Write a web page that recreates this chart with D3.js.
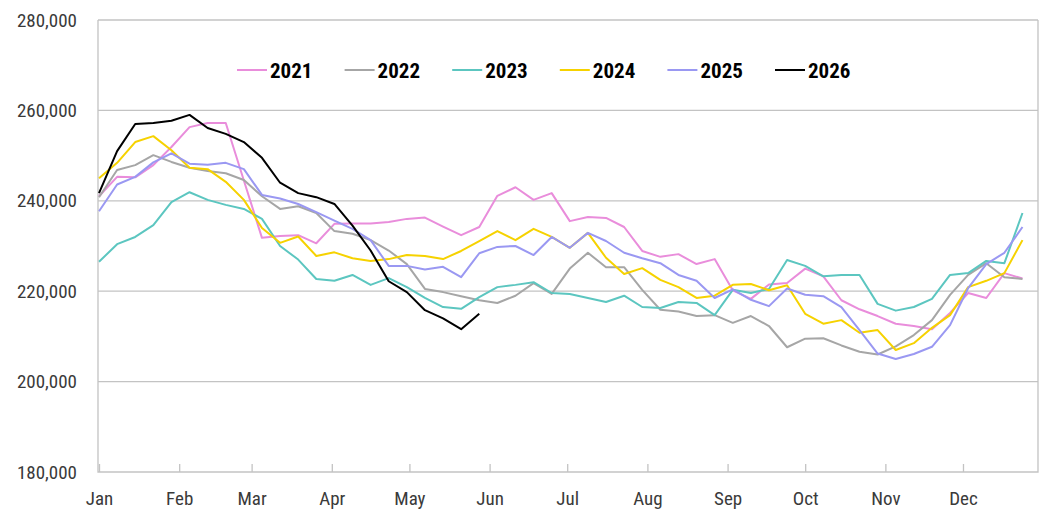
<!DOCTYPE html>
<html>
<head>
<meta charset="utf-8">
<script src="https://cdn.jsdelivr.net/npm/d3@7"></script>
<style>
  body { margin: 0; background: #fff; }
  svg { display: block; }
  .narrow { font-family: "Liberation Sans Narrow", "Arial Narrow", "Roboto Condensed", sans-serif; }
</style>
</head>
<body>
<svg id="chart" width="1040" height="510"></svg>
<script>
// weekly values, one point per week starting Jan 1
var years = ["2021", "2022", "2023", "2024", "2025", "2026"];
var colors = ["#e98ddb", "#a6a6a6", "#5cc6c0", "#f6d200", "#9a98f2", "#000000"];

var v2021 = [241000, 245300, 245200, 247900, 251900, 256300, 257200, 257200, 244500, 231800,
  232200, 232400, 230600, 234900, 235000, 235000, 235300, 236000, 236300, 234300,
  232400, 234200, 241100, 243000, 240200, 241700, 235500, 236400, 236200, 234200,
  228900, 227600, 228200, 226000, 227100, 220200, 218300, 221500, 221800, 225000,
  223300, 218000, 216000, 214500, 212800, 212300, 211600, 215200, 219600, 218500,
  224000, 222800];
var v2022 = [240800, 246800, 247900, 250100, 248600, 247300, 246600, 246100, 244600, 241000,
  238200, 238800, 237300, 233300, 232700, 231300, 229000, 226000, 220500, 219800,
  218900, 218000, 217400, 219000, 221800, 219400, 225000, 228500, 225300, 225300,
  220300, 215900, 215500, 214500, 214700, 213000, 214500, 212300, 207600, 209500,
  209600, 208000, 206600, 206000, 207800, 210300, 213600, 219200, 223600, 226200,
  223100, 222700];
var v2023 = [226500, 230400, 232000, 234600, 239700, 241900, 240200, 239100, 238200, 236000,
  230000, 227000, 222700, 222300, 223600, 221400, 222900, 220900, 218500, 216500,
  216100, 218700, 220900, 221400, 222000, 219600, 219400, 218500, 217600, 219000,
  216500, 216300, 217600, 217400, 214700, 220300, 219600, 220500, 226900, 225600,
  223300, 223600, 223600, 217200, 215700, 216500, 218300, 223600, 224000, 226700,
  226200, 237300];
var v2024 = [245000, 248400, 253000, 254300, 251200, 247300, 247000, 244200, 240200, 234000,
  230700, 232100, 227800, 228600, 227300, 226700, 227100, 228000, 227800, 227100,
  228900, 231100, 233300, 231300, 233800, 232000, 229600, 232900, 227400, 223800,
  225100, 222500, 220900, 218500, 219000, 221400, 221600, 220200, 221300, 215000,
  212800, 213600, 210800, 211400, 207000, 208500, 211900, 214700, 220900, 222300,
  224000, 231300];
var v2025 = [237700, 243600, 245300, 248500, 250500, 248200, 248000, 248400, 247000, 241300,
  240500, 239300, 237500, 235600, 233800, 231300, 225600, 225600, 224800, 225400,
  223100, 228400, 229800, 230000, 228000, 232000, 229600, 232900, 231100, 228500,
  227300, 226200, 223600, 222300, 218500, 220400, 218100, 216700, 220600, 219200,
  218900, 216500, 211400, 206200, 205000, 206100, 207700, 212500, 220700, 226000,
  228500, 234200];
var v2026 = [241700, 251000, 257000, 257200, 257700, 259000, 256100, 254800, 253000, 249500,
  244000, 241700, 240800, 239300, 234500, 229000, 222200, 219800, 215800, 214000,
  211600, 215000];

var series = [v2021, v2022, v2023, v2024, v2025, v2026];
var yTicks = [180000, 200000, 220000, 240000, 260000, 280000];

var svg = d3.select("#chart");
var plotLeft = 98, plotRight = 1038, plotTop = 20, plotBottom = 472;

var start = new Date(2021, 0, 1);
var x = d3.scaleTime()
    .domain([start, new Date(2021, 11, 30)])
    .range([plotLeft + 1, plotRight]);
var y = d3.scaleLinear()
    .domain([180000, 280000])
    .range([plotBottom, plotTop]);

// gridlines
svg.append("g").selectAll("line")
    .data(yTicks.slice(1))
    .enter().append("line")
      .attr("x1", plotLeft).attr("x2", plotRight)
      .attr("y1", function (d) { return y(d); })
      .attr("y2", function (d) { return y(d); })
      .attr("stroke", "#c3c3c3")
      .attr("stroke-width", 1.3);

// frame (left, right, bottom)
svg.append("path")
    .attr("d", "M" + plotLeft + "," + plotTop + "V" + plotBottom + "H" + plotRight + "V" + plotTop)
    .attr("fill", "none")
    .attr("stroke", "#c3c3c3")
    .attr("stroke-width", 1.3);

// y axis
var yAxis = svg.append("g")
    .attr("class", "narrow")
    .attr("transform", "translate(" + plotLeft + ",0)")
    .call(d3.axisLeft(y).tickValues(yTicks).tickSize(0).tickPadding(21).tickFormat(d3.format(",")));
yAxis.select(".domain").remove();
yAxis.selectAll("text").attr("font-size", 19).attr("fill", "#3a3a3a").attr("font-family", null);

// x axis (months)
var months = d3.timeMonth.range(start, new Date(2021, 11, 2));
var xAxis = svg.append("g")
    .attr("class", "narrow")
    .attr("transform", "translate(0," + plotBottom + ")")
    .call(d3.axisBottom(x).tickValues(months).tickSize(-8).tickPadding(20).tickFormat(d3.timeFormat("%b")));
xAxis.select(".domain").remove();
xAxis.selectAll("line").attr("stroke", "#c3c3c3").attr("stroke-width", 1.3);
xAxis.selectAll("text").attr("font-size", 19).attr("fill", "#3a3a3a").attr("font-family", null);

// lines
var line = d3.line()
    .x(function (d, i) { return x(d3.timeDay.offset(start, 7 * i)); })
    .y(function (d) { return y(d); });

svg.append("g").selectAll("path")
    .data(series)
    .enter().append("path")
      .attr("d", line)
      .attr("fill", "none")
      .attr("stroke", function (d, i) { return colors[i]; })
      .attr("stroke-width", 2)
      .attr("stroke-linejoin", "round");

// legend
var legend = svg.append("g")
    .attr("class", "narrow")
    .selectAll("g")
    .data(years)
    .enter().append("g")
      .attr("transform", function (d, i) { return "translate(" + (237 + i * 107.6) + ",70)"; });

legend.append("line")
    .attr("x1", 0).attr("x2", 30)
    .attr("stroke", function (d, i) { return colors[i]; })
    .attr("stroke-width", 2);

legend.append("text")
    .attr("x", 33)
    .attr("dy", "0.36em")
    .attr("font-size", 21)
    .attr("font-weight", "bold")
    .attr("fill", "#000")
    .text(function (d) { return d; });
</script>
</body>
</html>
